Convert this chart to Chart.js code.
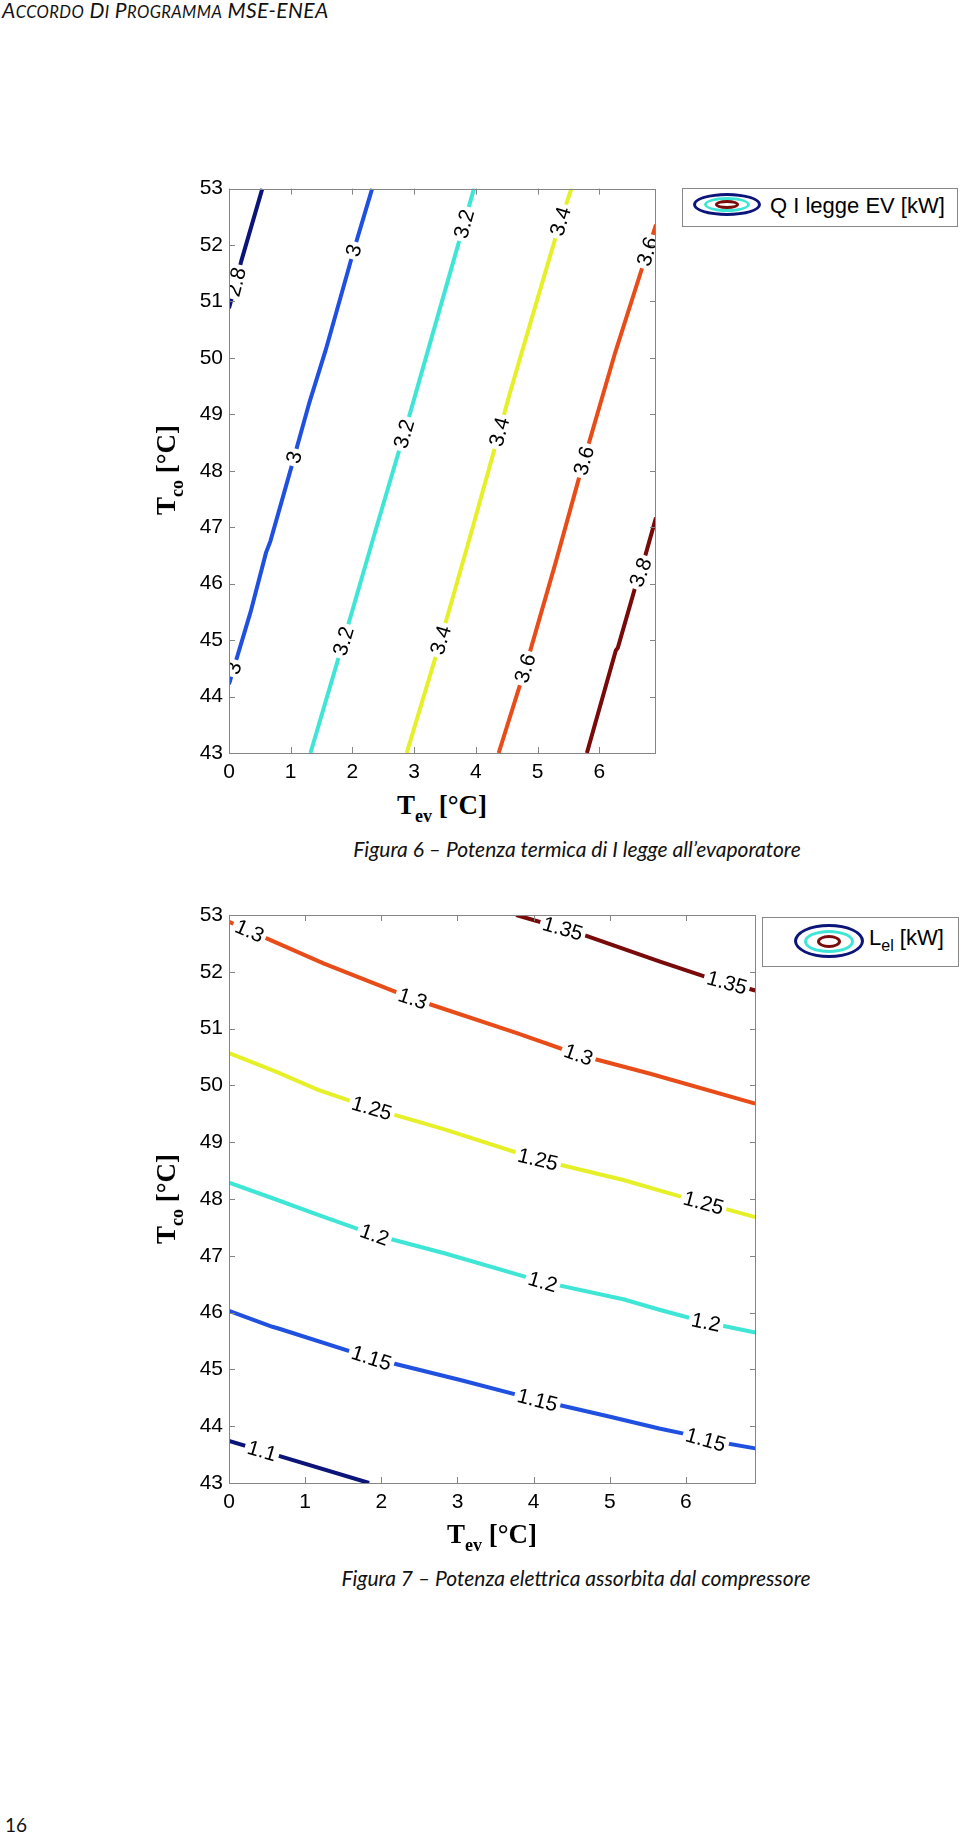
<!DOCTYPE html>
<html>
<head>
<meta charset="utf-8">
<script src="https://cdn.jsdelivr.net/npm/chart.js@4.4.0/dist/chart.umd.min.js"></script>
<style>
  body { margin: 0; width: 960px; height: 1833px; position: relative; background: #fff; overflow: hidden; }
  canvas { position: absolute; left: 0; }
  .hdr { position: absolute; left: 2px; top: -3px; font: italic 21px Lato, "Open Sans", sans-serif; color: #111; letter-spacing: 0.4px; white-space: nowrap; }
  .hdr .s { font-size: 16.5px; }
  .cap { position: absolute; font: italic 21px Lato, "Open Sans", sans-serif; color: #111; white-space: nowrap; transform: translateX(-50%); }
  .pg { position: absolute; left: 5px; top: 1813px; font: 19px Lato, "Open Sans", sans-serif; color: #111; }
  .ax { position: absolute; font: bold 27px "Liberation Serif", "DejaVu Serif", serif; color: #000; white-space: nowrap; line-height: 30px; }
  .ax sub { font-size: 18px; vertical-align: -8px; line-height: 0; }
  .xt { transform: translateX(-50%); }
  .yt { transform: translate(-50%, -50%) rotate(-90deg); }
  .leg { position: absolute; border: 1px solid #888; background: #fff; font: 22px "Liberation Sans", Arial, sans-serif; color: #000; }
  .leg .e { position: absolute; border-style: solid; border-radius: 50%; box-sizing: border-box; }
  .leg .t { position: absolute; white-space: nowrap; }
  .leg sub { font-size: 16px; vertical-align: -6px; line-height: 0; }
</style>
</head>
<body>
<div class="hdr">A<span class="s">CCORDO</span> D<span class="s">I</span> P<span class="s">ROGRAMMA</span> MSE-ENEA</div>

<canvas id="qChart" width="960" height="620" style="top:170px"></canvas>
<div class="leg" style="left:682px;top:188px;width:274px;height:37px">
  <div class="e" style="left:10px;top:4px;width:68px;height:23px;border-width:3px;border-color:#0b1478"></div>
  <div class="e" style="left:21px;top:8px;width:46px;height:15px;border-width:3px;border-color:#3fe6d6"></div>
  <div class="e" style="left:32px;top:11px;width:24px;height:9px;border-width:3px;border-color:#7a0c0c"></div>
  <div class="t" style="left:87px;top:4px">Q I legge EV [kW]</div>
</div>
<div class="ax xt" style="left:442px;top:790px">T<sub>ev</sub> [°C]</div>
<div class="ax yt" style="left:166px;top:470px">T<sub>co</sub> [°C]</div>
<div class="cap" style="left:577px;top:836px">Figura 6 – Potenza termica di I legge all’evaporatore</div>

<canvas id="lChart" width="960" height="640" style="top:890px"></canvas>
<div class="leg" style="left:762px;top:917px;width:195px;height:48px">
  <div class="e" style="left:31px;top:6px;width:70px;height:34px;border-width:3px;border-color:#0b1478"></div>
  <div class="e" style="left:41px;top:12px;width:50px;height:23px;border-width:3px;border-color:#3fe6d6"></div>
  <div class="e" style="left:54px;top:17px;width:24px;height:13px;border-width:3px;border-color:#7a0c0c"></div>
  <div class="t" style="left:106px;top:7px">L<sub>el</sub> [kW]</div>
</div>
<div class="ax xt" style="left:492px;top:1519px">T<sub>ev</sub> [°C]</div>
<div class="ax yt" style="left:166px;top:1199px">T<sub>co</sub> [°C]</div>
<div class="cap" style="left:576px;top:1565px">Figura 7 – Potenza elettrica assorbita dal compressore</div>

<div class="pg">16</div>

<script>
// axes
const tevTicks = [0, 1, 2, 3, 4, 5, 6];
const tcoTicks = [43, 44, 45, 46, 47, 48, 49, 50, 51, 52, 53];
const tevMax = 6.92;

const levelColors = ['#0b1478', '#2050e0', '#3fe6d6', '#e6f028', '#e84c18', '#780a0a'];

// Figura 6 - Q I legge EV [kW], contour lines as [Tev, Tco]
const qLevels = ['2.8', '3', '3.2', '3.4', '3.6', '3.8'];
const q28 = [[0, 50.88], [0.08, 51.2], [0.2, 51.72], [0.54, 53]];
const q30 = [[0, 44.22], [0.35, 45.5], [0.6, 46.55], [0.67, 46.75], [1.02, 48.1], [1.3, 49.2], [1.57, 50.15], [2.02, 51.9], [2.32, 53]];
const q32 = [[1.32, 43], [1.86, 45.0], [2.35, 46.85], [2.91, 48.93], [3.19, 50.0], [3.79, 52.3], [3.97, 53]];
const q34 = [[2.88, 43], [3.43, 45.0], [3.95, 47.0], [4.38, 48.69], [4.55, 49.37], [5.0, 51.05], [5.37, 52.42], [5.55, 53]];
const q36 = [[4.37, 43], [4.8, 44.5], [5.3, 46.4], [5.75, 48.18], [6.26, 50.1], [6.77, 51.85], [6.92, 52.36]];
const q38 = [[5.8, 43], [6.27, 44.82], [6.3, 44.86], [6.6, 46.0], [6.67, 46.2], [6.92, 47.17]];
const qLines = [q28, q30, q32, q34, q36, q38];
// where the inline labels sit
const qLabelAt = [
  [[0.1, 51.35]],
  [[0.08, 44.5], [1.05, 48.24], [2.03, 51.9]],
  [[1.86, 44.98], [2.85, 48.65], [3.79, 52.38]],
  [[3.43, 45.0], [4.38, 48.69], [5.37, 52.42]],
  [[4.8, 44.5], [5.75, 48.18], [6.77, 51.89]],
  [[6.67, 46.2]]
];

// Figura 7 - L el [kW]
const lLevels = ['1.1', '1.15', '1.2', '1.25', '1.3', '1.35'];
const l110 = [[0, 43.74], [0.6, 43.5], [1.84, 43.0]];
const l115 = [[0, 46.03], [0.57, 45.75], [0.65, 45.72], [1.87, 45.2], [3.05, 44.81], [4.05, 44.46], [4.99, 44.17], [5.65, 43.96], [6.0, 43.86], [6.26, 43.76], [6.91, 43.61]];
const l120 = [[0, 48.29], [0.6, 48.0], [1.17, 47.72], [1.91, 47.37], [2.84, 47.04], [4.12, 46.54], [5.19, 46.23], [5.65, 46.05], [6.26, 45.83], [6.91, 45.65]];
const l125 = [[0, 50.57], [0.6, 50.25], [1.17, 49.92], [1.87, 49.6], [2.84, 49.22], [4.05, 48.7], [5.19, 48.33], [5.99, 48.02], [6.91, 47.68]];
const l130 = [[0, 52.88], [0.27, 52.72], [1.24, 52.15], [2.18, 51.65], [2.41, 51.53], [3.78, 50.92], [4.59, 50.54], [5.52, 50.21], [6.91, 49.68]];
const l135 = [[3.77, 53], [4.59, 52.68], [5.66, 52.18], [6.26, 51.91], [6.91, 51.67]];
const lLines = [l110, l115, l120, l125, l130, l135];
const lLabelAt = [
  [[0.43, 43.55]],
  [[1.87, 45.2], [4.05, 44.46], [6.26, 43.76]],
  [[1.91, 47.37], [4.12, 46.54], [6.26, 45.81]],
  [[1.87, 49.57], [4.05, 48.66], [6.23, 47.92]],
  [[0.27, 52.72], [2.41, 51.52], [4.59, 50.54]],
  [[4.39, 52.79], [6.53, 51.77]]
];

Chart.defaults.font.family = '"Liberation Sans", Arial, sans-serif';

// inline contour labels: white gap + rotated text, snapped onto the line
const contourLabels = {
  id: 'contourLabels',
  afterDatasetsDraw(chart) {
    const { ctx, chartArea: a, scales: { x, y } } = chart;
    ctx.save();
    ctx.beginPath();
    ctx.rect(a.left, a.top, a.right - a.left, a.bottom - a.top);
    ctx.clip();
    ctx.font = '21px "Liberation Sans", Arial, sans-serif';
    ctx.textAlign = 'center';
    ctx.textBaseline = 'middle';
    chart.data.datasets.forEach(ds => {
      const pts = ds.data.map(p => [x.getPixelForValue(p.x), y.getPixelForValue(p.y)]);
      ds.labelAt.forEach(l => {
        const lx = x.getPixelForValue(l[0]), ly = y.getPixelForValue(l[1]);
        let best = Infinity, bx = lx, by = ly, ang = 0;
        for (let k = 0; k < pts.length - 1; k++) {
          const [x0, y0] = pts[k], [x1, y1] = pts[k + 1];
          const dx = x1 - x0, dy = y1 - y0;
          let t = ((lx - x0) * dx + (ly - y0) * dy) / (dx * dx + dy * dy);
          t = Math.max(0, Math.min(1, t));
          const px = x0 + t * dx, py = y0 + t * dy;
          const d = (px - lx) ** 2 + (py - ly) ** 2;
          if (d < best) { best = d; bx = px; by = py; ang = Math.atan2(dy, dx); }
        }
        ctx.save();
        ctx.translate(bx, by);
        ctx.rotate(ang);
        const w = ctx.measureText(ds.label).width;
        ctx.fillStyle = '#fff';
        ctx.fillRect(-w / 2 - 3, -5, w + 6, 10);
        ctx.fillStyle = '#000';
        ctx.fillText(ds.label, 0, 1);
        ctx.restore();
      });
    });
    ctx.restore();
  }
};

// box with inward ticks on all four sides
const axesBox = {
  id: 'axesBox',
  afterDraw(chart) {
    const { ctx, chartArea: a, scales: { x, y } } = chart;
    const len = 6;
    ctx.save();
    ctx.strokeStyle = '#858585';
    ctx.lineWidth = 1;
    ctx.beginPath();
    x.ticks.forEach(t => {
      const px = Math.round(x.getPixelForValue(t.value)) + 0.5;
      ctx.moveTo(px, a.bottom); ctx.lineTo(px, a.bottom - len);
      ctx.moveTo(px, a.top); ctx.lineTo(px, a.top + len);
    });
    y.ticks.forEach(t => {
      const py = Math.round(y.getPixelForValue(t.value)) + 0.5;
      ctx.moveTo(a.left, py); ctx.lineTo(a.left + len, py);
      ctx.moveTo(a.right, py); ctx.lineTo(a.right - len, py);
    });
    ctx.stroke();
    ctx.strokeRect(Math.round(a.left) + 0.5, Math.round(a.top) + 0.5, Math.round(a.right - a.left) - 1, Math.round(a.bottom - a.top));
    ctx.restore();
  }
};

function makeContour(id, levels, lines, labelAt, pad, xAxisHeight) {
  return new Chart(document.getElementById(id), {
    type: 'scatter',
    data: {
      datasets: lines.map((line, i) => ({
        label: levels[i],
        data: line.map(p => ({ x: p[0], y: p[1] })),
        labelAt: labelAt[i],
        showLine: true,
        borderColor: levelColors[i],
        borderWidth: 4,
        pointRadius: 0,
        tension: 0
      }))
    },
    options: {
      responsive: false,
      animation: false,
      layout: { padding: pad },
      plugins: { legend: { display: false }, tooltip: { enabled: false } },
      scales: {
        x: {
          type: 'linear', min: 0, max: tevMax,
          afterBuildTicks: s => { s.ticks = tevTicks.map(v => ({ value: v })); },
          afterFit: s => { s.height = xAxisHeight; },
          grid: { display: false, drawTicks: false },
          border: { display: false },
          ticks: { color: '#000', font: { size: 21 }, padding: 7, maxRotation: 0 }
        },
        y: {
          type: 'linear', min: 43, max: 53,
          afterBuildTicks: s => { s.ticks = tcoTicks.map(v => ({ value: v })); },
          afterFit: s => { s.width = 229; },
          grid: { display: false, drawTicks: false },
          border: { display: false },
          ticks: { color: '#000', font: { size: 21 }, padding: 6 }
        }
      }
    },
    plugins: [contourLabels, axesBox]
  });
}

makeContour('qChart', qLevels, qLines, qLabelAt, { top: 16, right: 304, left: 0, bottom: 0 }, 37);
makeContour('lChart', lLevels, lLines, lLabelAt, { top: 25, right: 204, left: 0, bottom: 0 }, 47);
</script>
</body>
</html>
